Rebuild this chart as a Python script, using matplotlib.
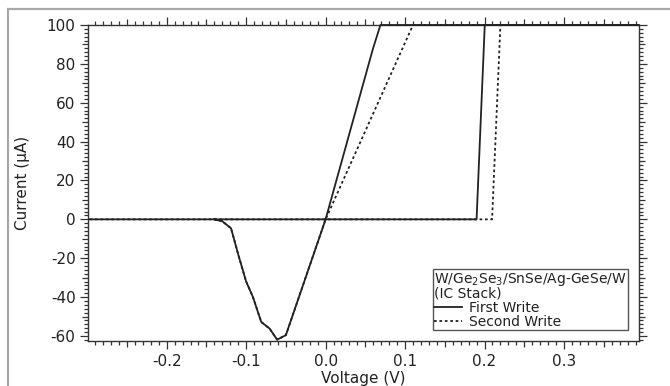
import matplotlib
matplotlib.use("Agg")
import matplotlib.pyplot as plt
from matplotlib.ticker import MultipleLocator
from matplotlib.patches import Rectangle

# ---- data ----
v_first = [-0.297, 0.190, 0.2003, 0.394, 0.069, 0.0596, 0.0, -0.050, -0.061,
           -0.0705, -0.081, -0.0915, -0.100, -0.110, -0.119, -0.130, -0.140]
i_first = [0.0, 0.0, 100.0, 100.0, 100.0, 87.8, 0.0, -59.6, -61.9,
           -56.2, -52.8, -39.9, -32.0, -18.0, -4.6, -1.0, 0.0]

v_second = [-0.297, 0.2095, 0.220, 0.394, 0.110, 0.0, -0.050, -0.061,
            -0.0705, -0.081, -0.0915, -0.100, -0.110, -0.119, -0.130, -0.140]
i_second = [0.0, 0.0, 100.0, 100.0, 100.0, 0.0, -59.6, -61.9,
            -56.2, -52.8, -39.9, -32.0, -18.0, -4.6, -1.0, 0.0]

x_ticks = [-0.2, -0.1, 0.0, 0.1, 0.2, 0.3]
y_ticks = [-60, -40, -20, 0, 20, 40, 60, 80, 100]

legend_title = "W/Ge$_2$Se$_3$/SnSe/Ag-GeSe/W\n(IC Stack)"
labels = ["First Write", "Second Write"]

plt.rcParams['font.family'] = ['DejaVu Sans']
plt.rcParams['axes.unicode_minus'] = False
plt.rcParams['mathtext.fontset'] = 'dejavusans'

W, H = 670, 386
fig = plt.figure(figsize=(W / 100, H / 100), dpi=100)
ax = fig.add_axes([88 / W, 1 - 341 / H, (639 - 88) / W, (341 - 25) / H])

txt = '#222222'
l2, = ax.plot(v_second, i_second, color='#222222', lw=1.3, ls=(0, (1.5, 1.5)),
              label=labels[1], zorder=2, clip_on=False)
l1, = ax.plot(v_first, i_first, color='#222222', lw=1.3, ls='-',
              label=labels[0], zorder=3, clip_on=False)

ax.set_xlim(-0.299, 0.3944)
ax.set_ylim(-62.6, 100)

ax.set_xticks(x_ticks)
ax.set_xticklabels([f"{t:.1f}" for t in x_ticks])
ax.set_yticks(y_ticks)
ax.xaxis.set_minor_locator(MultipleLocator(0.01))
ax.yaxis.set_minor_locator(MultipleLocator(2))

ax.tick_params(which='both', direction='out', top=True, right=True,
               labeltop=False, labelright=False, colors='#333333', width=0.9)
ax.tick_params(which='major', length=6, labelsize=11, labelcolor=txt, pad=3)
ax.tick_params(which='minor', length=2.8)
for s in ax.spines.values():
    s.set_color('#333333')
    s.set_linewidth(1.0)

ax.set_xlabel("Voltage (V)", fontsize=11, color=txt, labelpad=1.5)
ax.set_ylabel("Current (\u03bcA)", fontsize=11, color=txt, labelpad=12)

# medium-length ticks at odd multiples of 0.05 V and 10 uA
fig.canvas.draw()
xl = ax.xaxis.get_minorticklocs()
for loc, t in zip(xl, ax.xaxis.get_minor_ticks(len(xl))):
    r = loc / 0.05
    if abs(r - round(r)) < 1e-6:
        t.tick1line.set_markersize(4.3)
        t.tick2line.set_markersize(4.3)
yl = ax.yaxis.get_minorticklocs()
for loc, t in zip(yl, ax.yaxis.get_minor_ticks(len(yl))):
    r = loc / 10
    if abs(r - round(r)) < 1e-6:
        t.tick1line.set_markersize(4.3)
        t.tick2line.set_markersize(4.3)

leg = ax.legend(handles=[l1, l2], labels=labels, title=legend_title,
                loc='lower right', bbox_to_anchor=(0.98, 0.035),
                borderaxespad=0, fontsize=10, title_fontsize=10, alignment='left',
                frameon=True, fancybox=False, framealpha=1, edgecolor='#555555',
                handlelength=2.0, handletextpad=0.5, labelspacing=0.0,
                borderpad=0.1, labelcolor=txt)
leg.get_frame().set_linewidth(1.0)
leg.get_title().set_color(txt)
leg.get_title().set_linespacing(0.9)
leg._legend_box.sep = 0

fig.patches.append(Rectangle((8 / W, -0.2), 1.2, 1 - 9 / H + 0.2, transform=fig.transFigure,
                             fill=False, edgecolor='#a8a8a8', lw=1.6, clip_on=False))

fig.savefig("out.png", dpi=100)
